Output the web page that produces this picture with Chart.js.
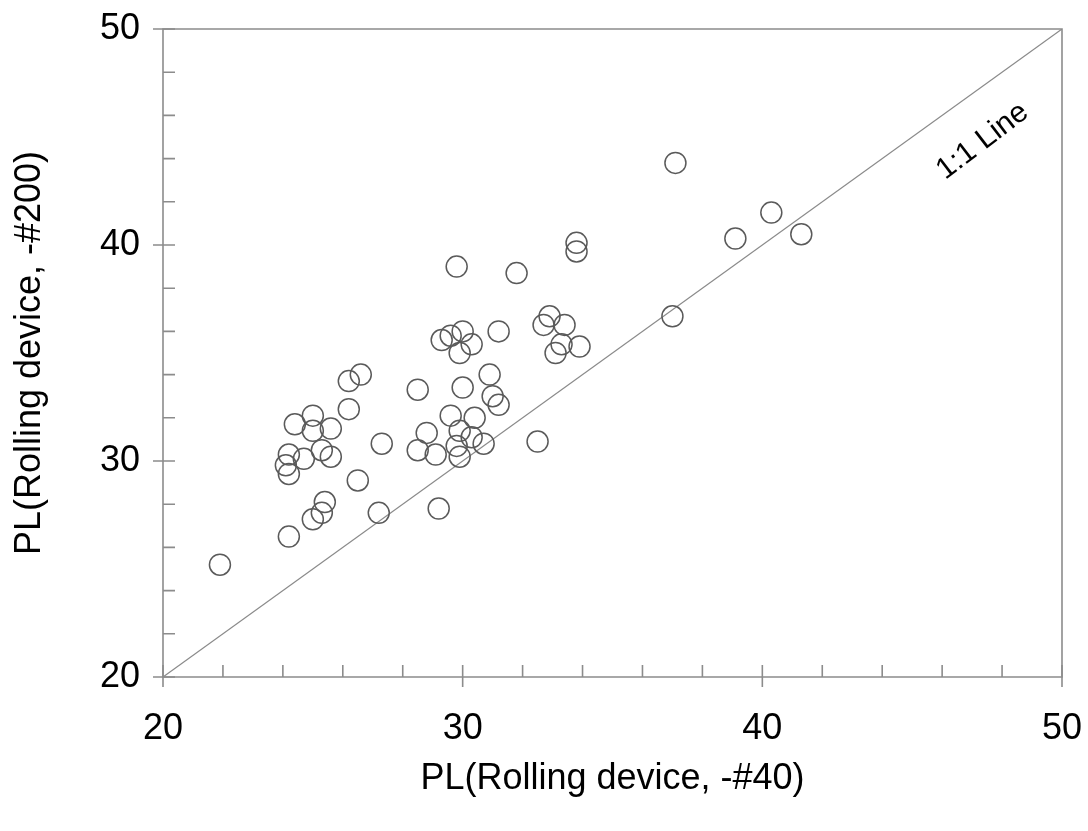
<!DOCTYPE html>
<html>
<head>
<meta charset="utf-8">
<script src="https://cdn.jsdelivr.net/npm/chart.js@4.4.1/dist/chart.umd.min.js"></script>
<style>
  html, body { margin: 0; padding: 0; background: #fff; }
  #wrap { width: 1088px; height: 831px; }
</style>
</head>
<body>
<div id="wrap"><canvas id="chart" width="1088" height="831"></canvas></div>
<script>
// PL values (x = -#40, y = -#200)
const plX40 = [21.9, 24.2, 24.1, 24.2, 24.2, 24.4, 24.7, 25.0, 25.0, 25.3, 25.6, 25.6, 25.0, 25.3, 25.4,
  26.2, 26.2, 26.6, 26.5, 27.3, 27.2, 28.5, 28.5, 28.8, 29.1, 29.2, 29.3, 29.6, 29.6, 29.9,
  29.8, 29.9, 29.8, 29.9, 30.0, 30.0, 30.3, 30.4, 30.3, 30.7, 30.9, 31.0, 31.2, 31.2, 31.8,
  32.5, 32.7, 32.9, 33.4, 33.3, 33.1, 33.9, 33.8, 33.8, 37.0, 37.1, 39.1, 40.3, 41.3];
const plY200 = [25.2, 26.5, 29.8, 29.4, 30.3, 31.7, 30.1, 32.1, 31.4, 30.5, 31.5, 30.2, 27.3, 27.6, 28.1,
  32.4, 33.7, 34.0, 29.1, 30.8, 27.6, 33.3, 30.5, 31.3, 30.3, 27.8, 35.6, 35.8, 32.1, 35.0,
  39.0, 31.4, 30.7, 30.2, 36.0, 33.4, 35.4, 32.0, 31.1, 30.8, 34.0, 33.0, 32.6, 36.0, 38.7,
  30.9, 36.3, 36.7, 36.3, 35.4, 35.0, 35.3, 40.1, 39.7, 36.7, 43.8, 40.3, 41.5, 40.5];

// 1:1 line end points
const lineX = [20, 50];
const lineY = [20, 50];

const axisMin = 20;
const axisMax = 50;
const majorTicks = [20, 30, 40, 50];
const minorTicks = [22, 24, 26, 28, 32, 34, 36, 38, 42, 44, 46, 48];

const axisColor = '#8c8c8c';
const font = '"Liberation Sans", Arial, sans-serif';

// box + inward minor ticks, major ticks crossing the axis
const framePlugin = {
  id: 'frame',
  afterDatasetsDraw(chart) {
    const { ctx, chartArea: a, scales: { x, y } } = chart;
    ctx.save();
    ctx.strokeStyle = axisColor;
    ctx.lineWidth = 1.6;
    ctx.beginPath();
    ctx.rect(a.left, a.top, a.right - a.left, a.bottom - a.top);
    ctx.stroke();

    ctx.beginPath();
    majorTicks.forEach(v => {
      const px = x.getPixelForValue(v);
      ctx.moveTo(px, a.bottom - 12);
      ctx.lineTo(px, a.bottom + 10);
      const py = y.getPixelForValue(v);
      ctx.moveTo(a.left - 10, py);
      ctx.lineTo(a.left + 12, py);
    });
    minorTicks.forEach(v => {
      const px = x.getPixelForValue(v);
      ctx.moveTo(px, a.bottom - 12);
      ctx.lineTo(px, a.bottom);
      const py = y.getPixelForValue(v);
      ctx.moveTo(a.left, py);
      ctx.lineTo(a.left + 12, py);
    });
    ctx.stroke();
    ctx.restore();
  }
};

// "1:1 Line" label drawn along the diagonal
const lineLabelPlugin = {
  id: 'lineLabel',
  afterDatasetsDraw(chart) {
    const { ctx, scales: { x, y } } = chart;
    const px = x.getPixelForValue(47.35);
    const py = y.getPixelForValue(44.8);
    const slope = (y.getPixelForValue(20) - y.getPixelForValue(50)) / (x.getPixelForValue(50) - x.getPixelForValue(20));
    ctx.save();
    ctx.translate(px, py);
    ctx.rotate(-Math.atan(slope) - 0.03);
    ctx.fillStyle = '#000';
    ctx.font = '30px ' + font;
    ctx.textAlign = 'center';
    ctx.textBaseline = 'middle';
    ctx.fillText('1:1 Line', 0, 0);
    ctx.restore();
  }
};

new Chart(document.getElementById('chart'), {
  type: 'scatter',
  data: {
    datasets: [
      {
        label: 'PL',
        data: plX40.map((v, i) => ({ x: v, y: plY200[i] })),
        pointRadius: 10.5,
        pointHoverRadius: 10.5,
        pointBorderWidth: 1.5,
        borderColor: '#5a5a5a',
        backgroundColor: 'rgba(0,0,0,0)'
      },
      {
        type: 'line',
        label: '1:1 Line',
        data: lineX.map((v, i) => ({ x: v, y: lineY[i] })),
        borderColor: '#8a8a8a',
        borderWidth: 1.2,
        pointRadius: 0,
        fill: false
      }
    ]
  },
  options: {
    responsive: false,
    animation: false,
    events: [],
    layout: { padding: { top: 29, right: 26, bottom: 0, left: 0 } },
    plugins: { legend: { display: false }, tooltip: { enabled: false } },
    scales: {
      x: {
        type: 'linear',
        min: axisMin,
        max: axisMax,
        afterFit: s => { s.height = 154; s.paddingLeft = 0; s.paddingRight = 0; },
        afterBuildTicks: s => { s.ticks = majorTicks.map(v => ({ value: v })); },
        grid: { display: false, drawTicks: false },
        border: { display: false },
        ticks: { color: '#000', padding: 30, font: { family: font, size: 36 } },
        title: {
          display: true,
          text: 'PL(Rolling device, -#40)',
          color: '#000',
          font: { family: font, size: 36, lineHeight: 1 },
          padding: { top: 0, bottom: 34 }
        }
      },
      y: {
        type: 'linear',
        min: axisMin,
        max: axisMax,
        afterFit: s => { s.width = 163; s.paddingTop = 0; s.paddingBottom = 0; },
        afterBuildTicks: s => { s.ticks = majorTicks.map(v => ({ value: v })); },
        grid: { display: false, drawTicks: false },
        border: { display: false },
        ticks: { color: '#000', padding: 23, font: { family: font, size: 36 } },
        title: {
          display: true,
          text: 'PL(Rolling device, -#200)',
          color: '#000',
          font: { family: font, size: 36, lineHeight: 1 },
          padding: { top: 12, bottom: 0 }
        }
      }
    }
  },
  plugins: [framePlugin, lineLabelPlugin]
});
</script>
</body>
</html>
